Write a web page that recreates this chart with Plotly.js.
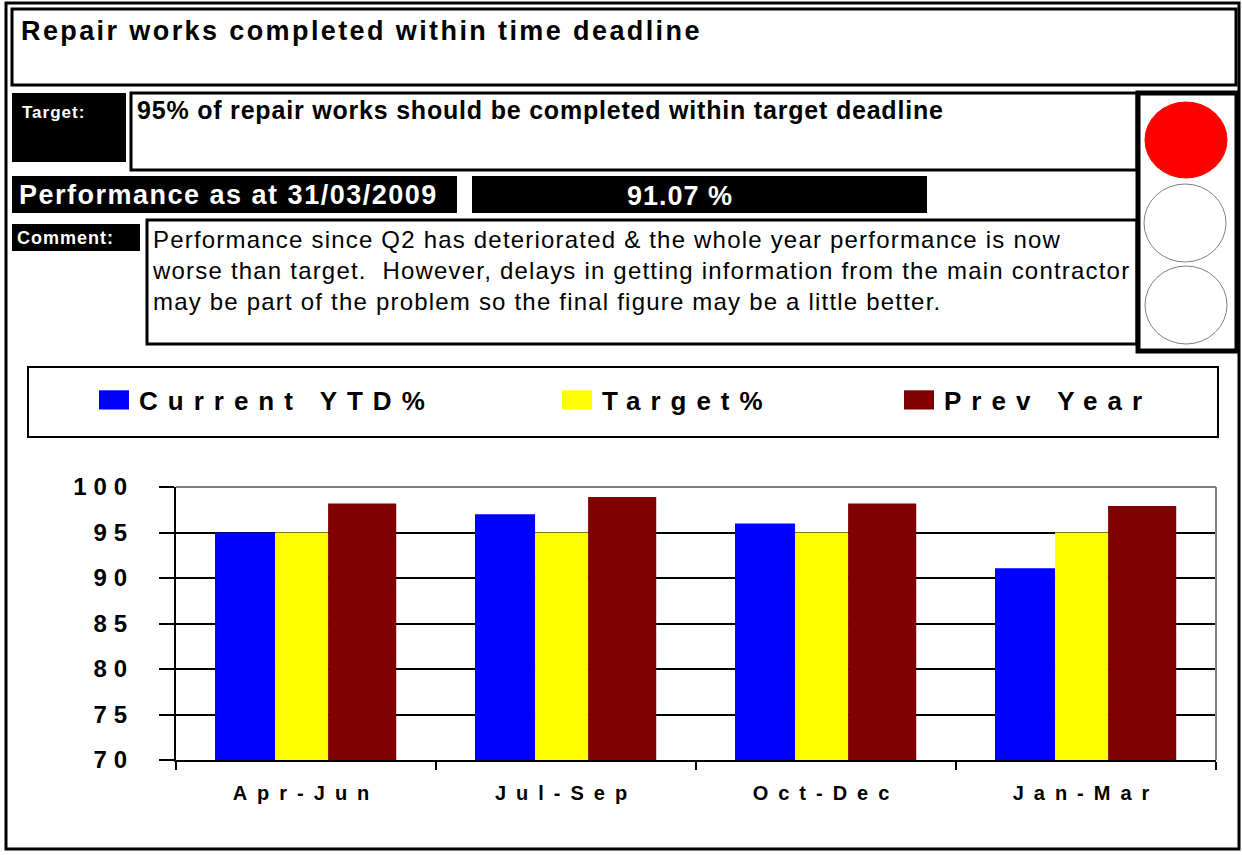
<!DOCTYPE html>
<html>
<head>
<meta charset="utf-8">
<script src="https://cdn.plot.ly/plotly-3.0.1.min.js"></script>
<style>
  html, body { margin: 0; padding: 0; background: #ffffff; }
  #chart { width: 1242px; height: 855px; }
  .xtick text { letter-spacing: 10px; }
  .ytick text { letter-spacing: 7px; }
  g[class^="legend"] text, text.legendtext { letter-spacing: 10px; }
  g.legendpoints path { transform: translate(15px, 0px) scale(2.5, 1.6); }
  g.scrollbox { clip-path: none !important; }
  g.annotation[data-index="0"] text { letter-spacing: 2.4px; }
  g.annotation[data-index="1"] text { letter-spacing: 1px; }
  g.annotation[data-index="2"] text { letter-spacing: 0.8px; }
  g.annotation[data-index="3"] text { letter-spacing: 1.5px; }
  g.annotation[data-index="4"] text { letter-spacing: 1px; }
  g.annotation[data-index="5"] text { letter-spacing: 1px; }
  g.annotation[data-index="6"] text { letter-spacing: 1.2px; }
</style>
</head>
<body>
<div id="chart"></div>
<script>
// ---- data ----
const quarters = ['Apr-Jun', 'Jul-Sep', 'Oct-Dec', 'Jan-Mar'];
const currentYTD = [95, 97, 96, 91.07];
const targetPct = [95, 95, 95, 95];
const prevYear = [98.2, 98.9, 98.2, 97.9];
const seriesNames = ['Current YTD%', 'Target%', 'Prev Year'];
const yTickVals = [70, 75, 80, 85, 90, 95, 100];

const titleText = 'Repair works completed within time deadline';
const targetLabel = 'Target:';
const targetText = '95% of repair works should be completed within target deadline';
const perfText = 'Performance as at 31/03/2009';
const commentLabel = 'Comment:';
const commentLines = [
  'Performance since Q2 has deteriorated &amp; the whole year performance is now',
  'worse than target.  However, delays in getting information from the main contractor',
  'may be part of the problem so the final figure may be a little better.'
];

// ---- geometry ----
const W = 1242, H = 855;
const ML = 176, MR = 26, MT = 487, MB = 95;
const PW = W - ML - MR, PH = H - MT - MB;
const px = x => (x - ML) / PW;
const py = y => (H - MB - y) / PH;
const FONT = 'Liberation Sans, Arial, Helvetica, sans-serif';

function rect(x0, y0, x1, y1, opts) {
  return Object.assign({
    type: 'rect', xref: 'paper', yref: 'paper',
    x0: px(x0), x1: px(x1), y0: py(y1), y1: py(y0),
    line: { color: '#000000', width: 3 }, fillcolor: 'rgba(0,0,0,0)'
  }, opts || {});
}
function ellipse(x0, y0, x1, y1, fill, lineColor, lw) {
  return {
    type: 'circle', xref: 'paper', yref: 'paper',
    x0: px(x0), x1: px(x1), y0: py(y1), y1: py(y0),
    fillcolor: fill, line: { color: lineColor, width: lw }
  };
}
function line(x0, y0, x1, y1, color, w) {
  return {
    type: 'line', xref: 'paper', yref: 'paper',
    x0: px(x0), x1: px(x1), y0: py(y0), y1: py(y1),
    line: { color: color, width: w }
  };
}
function label(x, y, text, size, color, bold, xanchor, yanchor, align) {
  return {
    xref: 'paper', yref: 'paper', x: px(x), y: py(y),
    text: text, showarrow: false,
    xanchor: xanchor || 'left', yanchor: yanchor || 'middle', align: align || 'left',
    font: { family: FONT, size: size, color: color, weight: bold ? 'bold' : 'normal' }
  };
}

const black = { line: { color: '#000000', width: 0 }, fillcolor: '#000000' };

const shapes = [
  rect(6, 3, 1239, 849, { line: { color: '#000000', width: 3 } }),
  rect(12, 9, 1236, 85),
  rect(12, 93, 126, 162, black),
  rect(131, 93, 1137, 170),
  rect(12, 176, 457, 213, black),
  rect(472, 176, 927, 213, black),
  rect(12, 224, 140, 251, black),
  rect(147, 220, 1137, 344),
  rect(1138, 93, 1237, 351, { line: { color: '#000000', width: 5 } }),
  ellipse(1145, 102, 1227, 178, '#ff0000', '#ff0000', 1),
  ellipse(1144, 184, 1226, 262, '#ffffff', '#808080', 1),
  ellipse(1145, 266, 1227, 344, '#ffffff', '#808080', 1),
  rect(28, 367, 1218, 437, { line: { color: '#000000', width: 2 } }),
  line(ML, MT, W - MR, MT, '#808080', 2),
  line(W - MR, MT, W - MR, H - MB, '#808080', 2)
];

const annotations = [
  label(19, 31, titleText, 27, '#000000', true),
  label(20, 112, targetLabel, 17, '#ffffff', true),
  label(135, 110, targetText, 25, '#000000', true),
  label(17, 195, perfText, 27, '#ffffff', true),
  label(676, 196, currentYTD[currentYTD.length - 1].toFixed(2) + ' %', 27, '#ffffff', true, 'center'),
  label(15, 238, commentLabel, 18, '#ffffff', true),
  label(150, 224, commentLines.join('<br>'), 24, '#000000', false, 'left', 'top', 'left')
];

const traces = [
  { type: 'bar', x: quarters, y: currentYTD, name: seriesNames[0], legend: 'legend',
    offset: -0.35, width: 0.231, marker: { color: '#0000ff' } },
  { type: 'bar', x: quarters, y: targetPct, name: seriesNames[1], legend: 'legend2',
    offset: -0.119, width: 0.204, marker: { color: '#ffff00' } },
  { type: 'bar', x: quarters, y: prevYear, name: seriesNames[2], legend: 'legend3',
    offset: 0.085, width: 0.262, marker: { color: '#800000' } }
];

function legendAt(x) {
  return {
    xref: 'container', yref: 'container', x: x / W, y: 1 - 400 / H,
    xanchor: 'left', yanchor: 'middle', orientation: 'h',
    bgcolor: 'rgba(0,0,0,0)', borderwidth: 0, itemwidth: 30,
    font: { family: FONT, size: 26, color: '#000000', weight: 'bold' }
  };
}

const layout = {
  width: W, height: H,
  margin: { l: ML, r: MR, t: MT, b: MB, pad: 0 },
  paper_bgcolor: '#ffffff', plot_bgcolor: '#ffffff',
  barmode: 'overlay',
  showlegend: true,
  legend: legendAt(99),
  legend2: legendAt(562),
  legend3: legendAt(904),
  xaxis: {
    type: 'category', range: [-0.5, 3.5], tickson: 'boundaries',
    ticks: 'outside', ticklen: 8, tickwidth: 2, tickcolor: '#000000',
    showline: true, linecolor: '#000000', linewidth: 2, showgrid: false,
    ticklabelstandoff: 14,
    tickfont: { family: FONT, size: 20, color: '#000000', weight: 'bold' }
  },
  yaxis: {
    range: [70, 100], tickvals: yTickVals, ticktext: yTickVals.map(String),
    ticks: 'outside', ticklen: 15, tickwidth: 2, tickcolor: '#000000',
    showline: true, linecolor: '#000000', linewidth: 2,
    showgrid: true, gridcolor: '#000000', gridwidth: 2, zeroline: false,
    ticklabelstandoff: 20,
    tickfont: { family: FONT, size: 24, color: '#000000', weight: 'bold' }
  },
  shapes: shapes,
  annotations: annotations
};

Plotly.newPlot('chart', traces, layout, { displayModeBar: false, staticPlot: true });
</script>
</body>
</html>
